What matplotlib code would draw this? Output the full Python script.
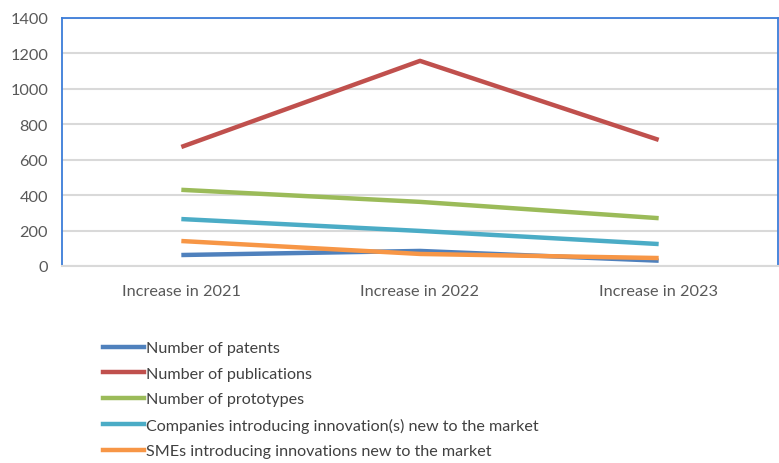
import matplotlib.pyplot as plt
from matplotlib.lines import Line2D

categories = ["Increase in 2021", "Increase in 2022", "Increase in 2023"]
patents = [62, 85, 30]
publications = [672, 1158, 712]
prototypes = [430, 362, 270]
companies = [265, 198, 124]
smes = [141, 68, 45]

labels = ["Number of patents", "Number of publications", "Number of prototypes",
          "Companies introducing innovation(s) new to the market",
          "SMEs introducing innovations new to the market"]
colors = ["#4F81BD", "#C0504D", "#9BBB59", "#4BACC6", "#F79646"]

plt.rcParams['font.family'] = ['Lato', 'DejaVu Sans']

fig = plt.figure(figsize=(7.79, 4.64), dpi=100)
ax = fig.add_axes([62/779, 197/464, 716/779, 248/464])

x = range(len(categories))
series = [patents, publications, prototypes, companies, smes]
for vals, c, lab in zip(series, colors, labels):
    ax.plot(x, vals, color=c, lw=3.2, solid_capstyle='butt', label=lab)

ax.set_xlim(-0.5, 2.5)
ax.set_ylim(0, 1400)
ax.set_yticks(range(0, 1401, 200))
ax.set_xticks(list(x))
ax.set_xticklabels(categories)
ax.grid(axis='y', color='#D9D9D9', lw=1.5)
ax.set_axisbelow(True)
ax.tick_params(length=0, colors='#595959', labelsize=11.7)
ax.tick_params(axis='x', pad=13)
ax.tick_params(axis='y', pad=10)

for s in ['left', 'top', 'right']:
    ax.spines[s].set_color('#3C7DD9')
    ax.spines[s].set_linewidth(1.3)
ax.spines['bottom'].set_color('#D9D9D9')
ax.spines['bottom'].set_linewidth(1.5)

handles = [Line2D([0], [0], color=c, lw=3.2) for c in colors]
fig.legend(handles, labels, loc='upper left', bbox_to_anchor=(103/779, 1 - 342/464),
           frameon=False, borderpad=0, borderaxespad=0, handlelength=2.55,
           handletextpad=0.12, labelspacing=0.7, fontsize=11.6, labelcolor='#404040')

fig.savefig("out.png", dpi=100)
